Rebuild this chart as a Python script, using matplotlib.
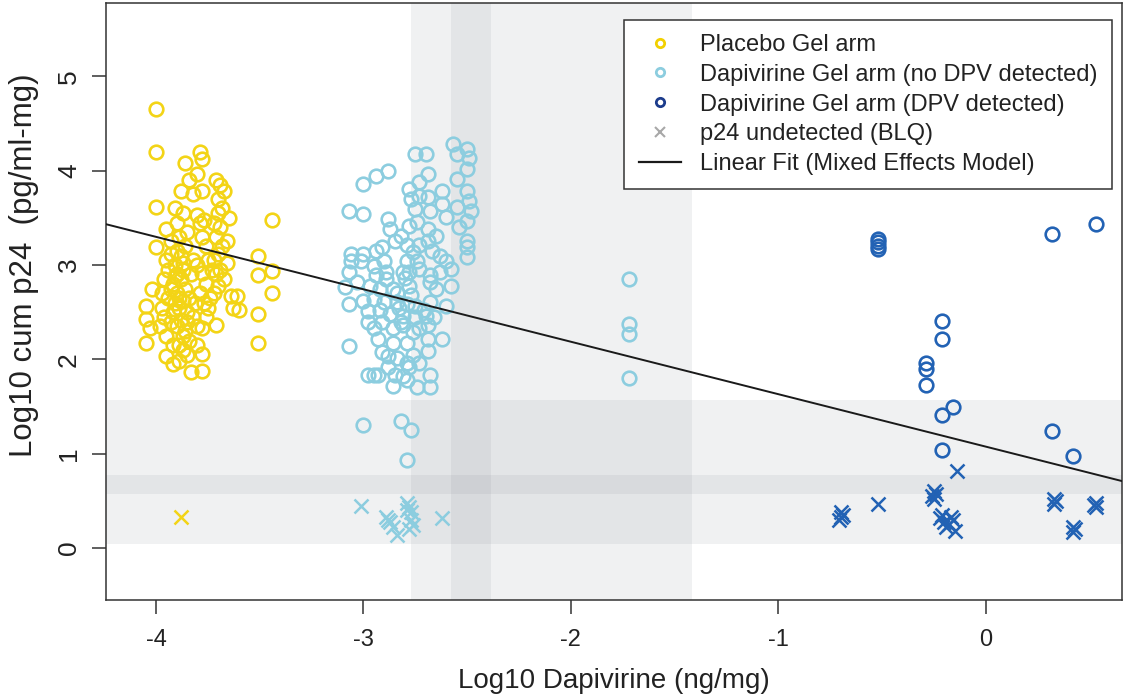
import numpy as np
import matplotlib
matplotlib.use("Agg")
import matplotlib.pyplot as plt
from matplotlib.lines import Line2D

plt.rcParams['font.family'] = ['Liberation Sans', 'DejaVu Sans']

# Placebo gel arm (log10 dapivirine, log10 cum p24)
placebo_pts = np.array([
    (-4.00, 4.65), (-4.00, 4.20), (-4.00, 3.62), (-4.00, 3.19), (-4.05, 2.57),
    (-4.05, 2.43), (-4.05, 2.17), (-4.02, 2.75), (-4.03, 2.33),
    (-3.95, 3.05), (-3.93, 3.25), (-3.91, 3.00), (-3.90, 2.90), (-3.88, 3.10),
    (-3.87, 2.95), (-3.86, 3.20), (-3.85, 3.35), (-3.89, 3.30), (-3.92, 2.80),
    (-3.90, 2.70), (-3.88, 2.85), (-3.86, 2.75), (-3.94, 2.65), (-3.91, 2.60),
    (-3.89, 2.55), (-3.87, 2.62), (-3.85, 2.50), (-3.96, 2.45), (-3.93, 2.40),
    (-3.90, 2.35), (-3.88, 2.42), (-3.86, 2.30), (-3.97, 2.55), (-3.95, 2.25),
    (-3.92, 2.15), (-3.89, 1.98), (-3.89, 2.15), (-3.87, 2.10), (-3.85, 2.05),
    (-3.95, 2.04), (-3.92, 1.95), (-3.83, 1.87), (-3.84, 2.20), (-3.93, 3.12),
    (-3.90, 3.45), (-3.87, 3.55), (-3.95, 3.38), (-3.91, 3.60), (-3.88, 3.78),
    (-3.86, 4.08), (-3.84, 3.90), (-3.92, 2.50), (-3.94, 2.95), (-3.97, 2.70),
    (-3.98, 2.35), (-3.96, 2.85), (-3.84, 2.65), (-3.83, 2.90), (-3.82, 3.05),
    (-3.82, 2.45), (-3.81, 2.60), (-3.80, 2.35), (-3.80, 2.15), (-3.85, 2.40),
    (-3.87, 2.25), (-3.93, 2.75), (-3.91, 2.88), (-3.89, 2.65), (-3.87, 3.02),
    (-3.90, 3.15),
    (-3.79, 4.20), (-3.78, 4.12), (-3.80, 3.96), (-3.82, 3.75), (-3.78, 3.78),
    (-3.80, 3.53), (-3.79, 3.45), (-3.77, 3.48), (-3.78, 3.30), (-3.76, 3.20),
    (-3.80, 3.00), (-3.78, 2.92), (-3.76, 2.80), (-3.79, 2.70), (-3.77, 2.60),
    (-3.75, 2.55), (-3.78, 2.33), (-3.78, 2.06), (-3.78, 1.88), (-3.76, 2.45),
    (-3.74, 2.65), (-3.75, 3.05),
    (-3.71, 3.90), (-3.69, 3.85), (-3.67, 3.78), (-3.70, 3.70), (-3.68, 3.60),
    (-3.70, 3.55), (-3.72, 3.45), (-3.69, 3.40), (-3.71, 3.30), (-3.68, 3.20),
    (-3.70, 3.12), (-3.72, 3.05), (-3.69, 2.95), (-3.71, 2.90), (-3.67, 2.85),
    (-3.70, 2.78), (-3.72, 2.70), (-3.66, 3.02), (-3.71, 2.36), (-3.64, 2.67),
    (-3.63, 2.55), (-3.61, 2.67), (-3.60, 2.52), (-3.65, 3.50), (-3.66, 3.25),
    (-3.73, 2.95),
    (-3.51, 3.10), (-3.51, 2.89), (-3.51, 2.48), (-3.51, 2.17), (-3.44, 3.48),
    (-3.44, 2.94), (-3.44, 2.70),
])
placebo_blq = np.array([(-3.88, 0.33)])

# Dapivirine gel arm, no DPV detected
nodpv_pts = np.array([
    (-3.07, 3.57), (-3.00, 3.54), (-3.00, 3.86), (-2.94, 3.94), (-2.88, 4.00),
    (-2.75, 4.18), (-2.70, 4.18), (-2.57, 4.28), (-2.55, 4.18), (-2.50, 4.23),
    (-2.49, 4.14), (-2.50, 4.02), (-2.55, 3.91), (-2.50, 3.78), (-2.49, 3.68),
    (-2.48, 3.57), (-2.50, 3.47), (-2.50, 3.26), (-2.50, 3.19), (-2.50, 3.09),
    (-2.62, 3.78), (-2.62, 3.65), (-2.60, 3.51), (-2.55, 3.62), (-2.54, 3.40),
    (-2.69, 3.96), (-2.73, 3.88), (-2.78, 3.81), (-2.77, 3.70), (-2.73, 3.73),
    (-2.69, 3.72), (-2.75, 3.59), (-2.68, 3.57), (-2.74, 3.46), (-2.78, 3.41),
    (-2.69, 3.38), (-2.65, 3.31), (-2.69, 3.25), (-2.73, 3.21), (-2.76, 3.14),
    (-2.67, 3.15), (-2.63, 3.10), (-2.60, 3.04), (-2.58, 2.96), (-2.63, 2.93),
    (-2.68, 2.89), (-2.73, 2.96), (-2.88, 3.49), (-2.87, 3.38), (-2.82, 3.31),
    (-2.85, 3.25), (-2.79, 3.21), (-2.91, 3.19), (-2.94, 3.15), (-3.00, 3.12),
    (-3.06, 3.12), (-3.06, 3.04), (-3.07, 2.93), (-3.01, 3.04), (-2.95, 2.99),
    (-2.90, 3.04), (-2.89, 2.93), (-2.94, 2.89), (-2.81, 2.93), (-2.78, 2.93),
    (-2.74, 3.04), (-2.79, 3.04),
    (-3.07, 2.59), (-3.07, 2.14), (-2.98, 1.83), (-2.95, 1.83), (-2.93, 1.83),
    (-2.86, 1.72), (-2.79, 1.78), (-2.74, 1.71), (-2.68, 1.71), (-2.68, 1.83),
    (-2.73, 1.96), (-2.78, 1.92), (-2.84, 2.01), (-2.88, 2.04), (-2.88, 1.92),
    (-2.85, 1.83), (-2.81, 1.82), (-2.69, 2.09), (-2.62, 2.22), (-2.69, 2.22),
    (-2.79, 2.17), (-2.86, 2.17), (-2.93, 2.22), (-2.98, 2.40), (-2.95, 2.33),
    (-2.91, 2.40), (-2.86, 2.33), (-2.81, 2.36), (-2.76, 2.29), (-2.73, 2.33),
    (-2.69, 2.36), (-2.70, 2.46), (-2.75, 2.45), (-2.81, 2.46), (-2.87, 2.48),
    (-2.92, 2.52), (-2.98, 2.51), (-3.00, 2.62), (-2.95, 2.64), (-2.90, 2.61),
    (-2.84, 2.61), (-2.79, 2.59), (-2.75, 2.57), (-2.68, 2.61), (-2.60, 2.57),
    (-2.58, 2.78), (-2.65, 2.75), (-2.68, 2.82), (-2.78, 2.78), (-2.86, 2.75),
    (-2.92, 2.75), (-2.97, 2.78), (-3.03, 2.82), (-3.09, 2.77), (-2.84, 2.70),
    (-2.79, 1.96), (-2.91, 2.08), (-2.83, 2.55), (-2.77, 2.68), (-2.71, 2.52),
    (-2.80, 2.86), (-2.66, 2.45), (-2.89, 2.85), (-2.82, 2.40), (-2.76, 2.05),
    (-3.00, 1.30), (-2.82, 1.35), (-2.77, 1.25), (-2.79, 0.93),
    (-1.72, 2.85), (-1.72, 2.38), (-1.72, 2.27), (-1.72, 1.80),
])
nodpv_blq = np.array([
    (-3.01, 0.45), (-2.89, 0.33), (-2.87, 0.28), (-2.86, 0.22), (-2.84, 0.14),
    (-2.88, 0.30), (-2.79, 0.48), (-2.78, 0.44), (-2.77, 0.38), (-2.77, 0.30),
    (-2.76, 0.24), (-2.78, 0.20), (-2.62, 0.32), (-2.79, 0.40),
])

# Dapivirine gel arm, DPV detected
dpv_pts = np.array([
    (-0.52, 3.28), (-0.52, 3.24), (-0.52, 3.20), (-0.52, 3.17), (0.32, 3.33),
    (0.53, 3.43), (-0.21, 2.41), (-0.21, 2.22), (-0.29, 1.96), (-0.29, 1.90),
    (-0.29, 1.73), (-0.16, 1.50), (-0.21, 1.41), (-0.21, 1.04), (0.32, 1.24),
    (0.42, 0.98),
])
dpv_blq = np.array([
    (-0.70, 0.38), (-0.70, 0.33), (-0.71, 0.30), (-0.69, 0.35), (-0.52, 0.47),
    (-0.25, 0.60), (-0.26, 0.55), (-0.25, 0.52), (-0.24, 0.57), (-0.22, 0.32),
    (-0.20, 0.28), (-0.18, 0.25), (-0.16, 0.30), (-0.15, 0.18), (-0.19, 0.22),
    (-0.21, 0.35), (-0.17, 0.33), (-0.14, 0.82), (0.33, 0.52), (0.33, 0.47),
    (0.34, 0.50), (0.42, 0.22), (0.42, 0.17), (0.43, 0.20), (0.53, 0.48),
    (0.53, 0.43), (0.52, 0.46),
])

# mixed effects model fit
fit_intercept = 1.075
fit_slope = -0.556

# shaded reference ranges
x_band = (-2.771, -1.417)
x_band_dark = (-2.578, -2.386)
y_band = (0.04, 1.565)
y_band_dark = (0.57, 0.77)

xticks = [-4, -3, -2, -1, 0]
yticks = [0, 1, 2, 3, 4, 5]
legend_labels = ["Placebo Gel arm", "Dapivirine Gel arm (no DPV detected)",
                 "Dapivirine Gel arm (DPV detected)", "p24 undetected (BLQ)",
                 "Linear Fit (Mixed Effects Model)"]

c_yellow = "#f3d416"
c_light = "#8ccddf"
c_dark = "#2262b4"
text_col = "#222222"

fig = plt.figure(figsize=(11.24, 6.96), dpi=100)
ax = fig.add_axes([0.0943, 0.138, 0.9037, 0.858])
xlim = (-4.241, 0.655)
ax.set_xlim(*xlim)
ax.set_ylim(-0.55, 5.78)

shade = "#8a8f99"
ax.axvspan(*x_band, color=shade, alpha=0.12, lw=0, zorder=0)
ax.axvspan(*x_band_dark, color=shade, alpha=0.12, lw=0, zorder=0)
ax.axhspan(*y_band, color=shade, alpha=0.12, lw=0, zorder=0)
ax.axhspan(*y_band_dark, color=shade, alpha=0.12, lw=0, zorder=0)

ms, mew = 9.8, 1.9
for pts, col in [(placebo_pts, c_yellow), (nodpv_pts, c_light), (dpv_pts, c_dark)]:
    ax.plot(pts[:, 0], pts[:, 1], ls="none", marker="o", ms=ms, mfc="none",
            mec=col, mew=mew, zorder=3)
for pts, col in [(placebo_blq, c_yellow), (nodpv_blq, c_light), (dpv_blq, c_dark)]:
    ax.plot(pts[:, 0], pts[:, 1], ls="none", marker="x", ms=10, mec=col,
            mew=1.8, zorder=3)

xs = np.array(xlim)
ax.plot(xs, fit_intercept + fit_slope * xs, color="#1a1a1a", lw=1.4, zorder=4)

ax.set_xticks(xticks)
ax.set_yticks(yticks)
ax.set_xticklabels([str(t) for t in xticks], fontsize=17, color=text_col)
ax.set_yticklabels([str(t) for t in yticks], fontsize=19, color=text_col,
                   rotation=90, va="center")
ax.tick_params(axis="both", length=10, width=1.1, color="#333333")
ax.tick_params(axis="x", pad=11)
ax.tick_params(axis="y", pad=8)
for sp in ax.spines.values():
    sp.set_color("#333333")
    sp.set_linewidth(1.1)

ax.set_xlabel("Log10 Dapivirine (ng/mg)", fontsize=20, color=text_col, labelpad=12)
ax.set_ylabel("Log10 cum p24  (pg/ml-mg)", fontsize=22.5, color=text_col)
ax.yaxis.set_label_coords(-0.066, 0.56)

handles = [
    Line2D([], [], ls="none", marker="o", ms=6, mfc="none", mec="#f2d000", mew=2),
    Line2D([], [], ls="none", marker="o", ms=6, mfc="none", mec=c_light, mew=2),
    Line2D([], [], ls="none", marker="o", ms=6, mfc="none", mec="#1c3c8c", mew=2),
    Line2D([], [], ls="none", marker="x", ms=7, mec="#a8a8a8", mew=1.5),
    Line2D([], [], color="#1a1a1a", lw=1.6),
]
leg = ax.legend(handles, legend_labels, loc="upper right",
                bbox_to_anchor=(0.990, 0.9715), fontsize=17, frameon=True,
                fancybox=False, edgecolor="#333333", framealpha=1,
                handlelength=1.8, handletextpad=0.8, labelspacing=0.33,
                borderpad=0.6, borderaxespad=0)
leg.get_frame().set_linewidth(1.1)
for t in leg.get_texts():
    t.set_color(text_col)

fig.savefig("out.png", dpi=100)
